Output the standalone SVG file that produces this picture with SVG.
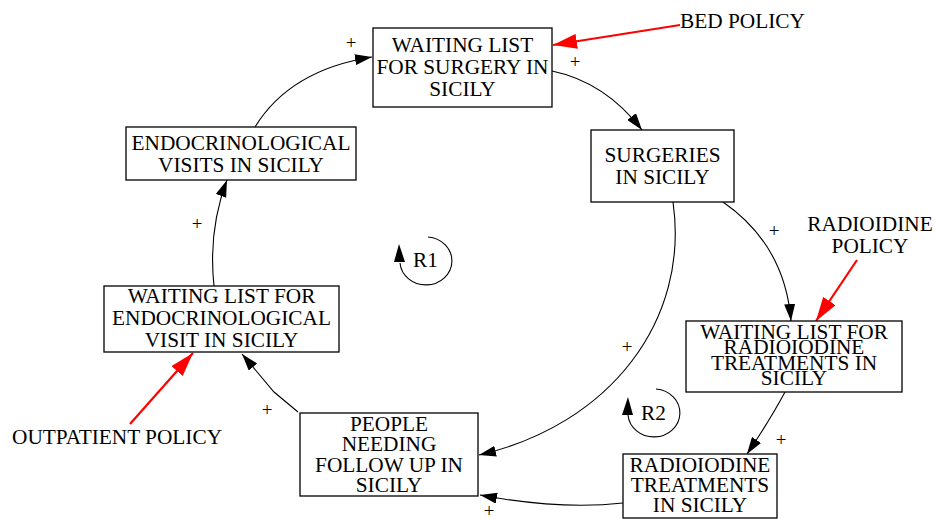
<svg xmlns="http://www.w3.org/2000/svg" width="935" height="521" viewBox="0 0 935 521">
  <style>
    .box { fill: #ffffff; stroke: #000000; stroke-width: 1.3; }
    .lbl { font-size: 21.3px; fill: #000000; text-anchor: middle; }
    .pol { font-size: 21.3px; fill: #000000; }
    .sign { font-size: 19px; fill: #000000; text-anchor: middle; }
    .link { fill: none; stroke: #000000; stroke-width: 1.1; marker-end: url(#head); }
    .policy { fill: none; stroke: #ff0000; stroke-width: 2.2; marker-end: url(#redhead); }
    .loop { fill: none; stroke: #000000; stroke-width: 1.1; }
  </style>
  <defs>
    <marker id="head" markerUnits="userSpaceOnUse" markerWidth="17" markerHeight="11" refX="17" refY="5.5" orient="auto">
      <path d="M0,0 L17,5.5 L0,11 Z" fill="#000000"/>
    </marker>
    <marker id="redhead" markerUnits="userSpaceOnUse" markerWidth="24" markerHeight="15" refX="24" refY="7.5" orient="auto">
      <path d="M0,0 L24,7.5 L0,15 Z" fill="#ff0000"/>
    </marker>
  </defs>

  <rect width="935" height="521" fill="#ffffff"/>

  <g font-family="Liberation Serif, Times New Roman, DejaVu Serif, serif">
  <!-- causal links -->
  <g id="connectors">
    <path class="link" d="M255,127 Q290,70 372,57"/>
    <path class="link" d="M552,71 Q605,82 642,130"/>
    <path class="link" d="M723,202 Q785,245 791,321"/>
    <path class="link" d="M673,202 C690,320 610,425 479,455"/>
    <path class="link" d="M785,392 Q770,420 747,454"/>
    <path class="link" d="M623,503 Q560,510 480,495"/>
    <path class="link" d="M298,412 L274,392 L242,354"/>
    <path class="link" d="M214,286 Q208,230 227,180"/>

    <path class="policy" d="M680,25 L553,45"/>
    <path class="policy" d="M857,260 L816,321"/>
    <path class="policy" d="M130,424 L193,353"/>

    <!-- polarity signs -->
    <text class="sign" x="351" y="49">+</text>
    <text class="sign" x="575" y="68">+</text>
    <text class="sign" x="774" y="237">+</text>
    <text class="sign" x="627" y="353">+</text>
    <text class="sign" x="197" y="230">+</text>
    <text class="sign" x="267" y="416">+</text>
    <text class="sign" x="781" y="446">+</text>
    <text class="sign" x="489" y="517">+</text>
  </g>

  <!-- loop identifiers -->
  <g id="loop-R1">
    <path class="loop" d="M428,237 A26,24 0 1 1 400,263"/>
    <polygon points="399,244 394,262 405,262" fill="#000000"/>
    <text class="pol" x="413" y="267">R1</text>
  </g>
  <g id="loop-R2">
    <path class="loop" d="M656,389 A26,24 0 1 1 628,415"/>
    <polygon points="628,397 622,415 633,415" fill="#000000"/>
    <text class="pol" x="641" y="420">R2</text>
  </g>

  <!-- stock / variable nodes -->
  <g id="waiting-list-surgery">
    <rect class="box" x="373" y="28" width="179" height="79"/>
    <text class="lbl" x="462.5" y="52">WAITING LIST</text>
    <text class="lbl" x="462.5" y="74">FOR SURGERY IN</text>
    <text class="lbl" x="462.5" y="96">SICILY</text>
  </g>
  <g id="endocrinological-visits">
    <rect class="box" x="126" y="127" width="230" height="53"/>
    <text class="lbl" x="241" y="150">ENDOCRINOLOGICAL</text>
    <text class="lbl" x="241" y="172">VISITS IN SICILY</text>
  </g>
  <g id="waiting-list-endocrinological">
    <rect class="box" x="104" y="286" width="235" height="66"/>
    <text class="lbl" x="221.5" y="303">WAITING LIST FOR</text>
    <text class="lbl" x="221.5" y="325">ENDOCRINOLOGICAL</text>
    <text class="lbl" x="221.5" y="346.5">VISIT IN SICILY</text>
  </g>
  <g id="surgeries">
    <rect class="box" x="591" y="130" width="143" height="72"/>
    <text class="lbl" x="662.5" y="162">SURGERIES</text>
    <text class="lbl" x="662.5" y="184">IN SICILY</text>
  </g>
  <g id="waiting-list-radioiodine">
    <rect class="box" x="686" y="321" width="216" height="71"/>
    <text class="lbl" x="794" y="338.5">WAITING LIST FOR</text>
    <text class="lbl" x="794" y="354">RADIOIODINE</text>
    <text class="lbl" x="794" y="369.5">TREATMENTS IN</text>
    <text class="lbl" x="794" y="385">SICILY</text>
  </g>
  <g id="people-follow-up">
    <rect class="box" x="300" y="413" width="178" height="83"/>
    <text class="lbl" x="389" y="431">PEOPLE</text>
    <text class="lbl" x="389" y="451">NEEDING</text>
    <text class="lbl" x="389" y="471.5">FOLLOW UP IN</text>
    <text class="lbl" x="389" y="491.5">SICILY</text>
  </g>
  <g id="radioiodine-treatments">
    <rect class="box" x="623" y="454" width="154" height="64"/>
    <text class="lbl" x="700" y="471.5">RADIOIODINE</text>
    <text class="lbl" x="700" y="491.5">TREATMENTS</text>
    <text class="lbl" x="700" y="511.5">IN SICILY</text>
  </g>

  <!-- policy levers -->
  <g id="bed-policy">
    <text class="pol" x="680" y="28">BED POLICY</text>
  </g>
  <g id="radioidine-policy">
    <text class="lbl" x="870" y="231">RADIOIDINE</text>
    <text class="lbl" x="870" y="253">POLICY</text>
  </g>
  <g id="outpatient-policy">
    <text class="pol" x="12" y="444">OUTPATIENT POLICY</text>
  </g>
  </g>
</svg>
